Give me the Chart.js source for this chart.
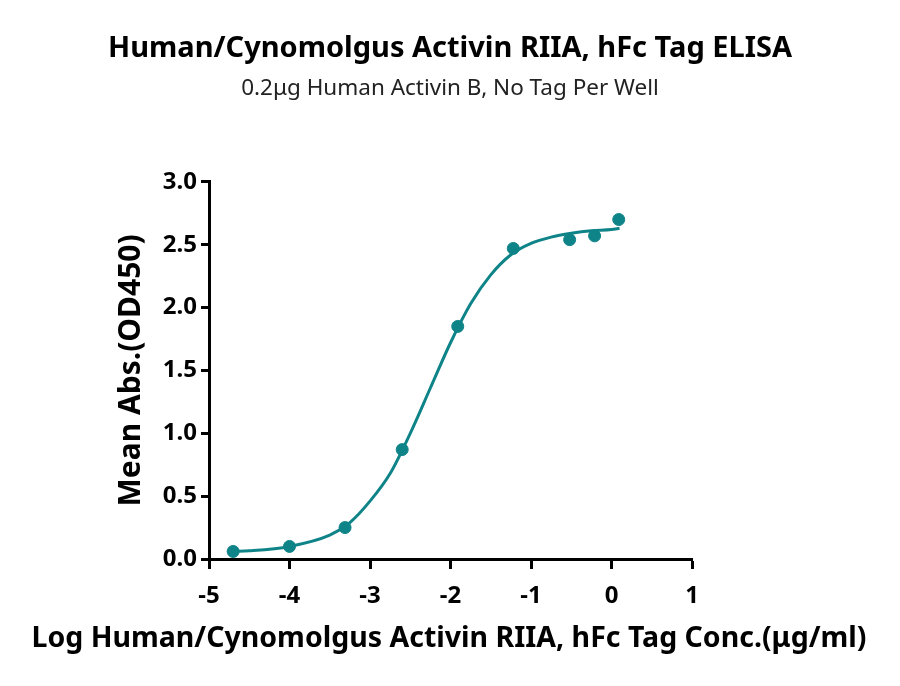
<!DOCTYPE html>
<html>
<head>
<meta charset="utf-8">
<script src="https://cdn.jsdelivr.net/npm/chart.js@4/dist/chart.umd.min.js"></script>
<style>
  body { margin: 0; background: #fff; }
  #wrap { width: 900px; height: 686px; }
</style>
</head>
<body>
<div id="wrap"><canvas id="elisaChart" width="900" height="686"></canvas></div>
<script>
// measured points (log conc, OD450)
const logConc = [-4.70, -4.00, -3.31, -2.60, -1.91, -1.22, -0.52, -0.21, 0.09];
const meanAbs = [0.06, 0.10, 0.25, 0.87, 1.85, 2.47, 2.54, 2.57, 2.70];

// fitted curve
const curveX = [-4.70, -4.50, -4.00, -3.50, -3.25, -3.00, -2.75, -2.50, -2.25, -2.00, -1.75, -1.50, -1.25, -1.00, -0.75, -0.50, -0.25, 0.00, 0.10];
const curveY = [0.06, 0.065, 0.10, 0.19, 0.29, 0.46, 0.68, 1.00, 1.36, 1.72, 2.03, 2.26, 2.42, 2.51, 2.56, 2.59, 2.61, 2.62, 2.63];

const xTicks = [-5, -4, -3, -2, -1, 0, 1];
const yTicks = [0, 0.5, 1, 1.5, 2, 2.5, 3];

const xTitle = 'Log Human/Cynomolgus Activin RIIA, hFc Tag Conc.(μg/ml)';

const teal = '#0f8488';
const font = 'Noto Sans';

function toPoints(xs, ys) {
    return xs.map((x, i) => ({ x: x, y: ys[i] }));
}

// x axis title drawn by hand so it is not squeezed to the axis width
const xTitlePlugin = {
    id: 'xTitle',
    afterDraw(chart) {
        const ctx = chart.ctx;
        ctx.save();
        ctx.font = 'bold 28.5px "' + font + '"';
        ctx.fillStyle = '#000';
        ctx.textAlign = 'center';
        ctx.textBaseline = 'middle';
        ctx.fillText(xTitle, 449, 639);
        ctx.restore();
    }
};

new Chart(document.getElementById('elisaChart'), {
    type: 'scatter',
    data: {
        datasets: [
            {
                label: 'fit',
                data: toPoints(curveX, curveY),
                showLine: true,
                cubicInterpolationMode: 'monotone',
                borderColor: teal,
                borderWidth: 3,
                pointRadius: 0
            },
            {
                label: 'mean',
                data: toPoints(logConc, meanAbs),
                backgroundColor: teal,
                borderColor: teal,
                pointRadius: 6,
                pointHoverRadius: 6
            }
        ]
    },
    options: {
        responsive: false,
        animation: false,
        devicePixelRatio: 1,
        layout: { padding: 0 },
        plugins: {
            legend: { display: false },
            tooltip: { enabled: false },
            title: {
                display: true,
                text: 'Human/Cynomolgus Activin RIIA, hFc Tag ELISA',
                color: '#000',
                font: { family: font, size: 29, weight: 'bold', lineHeight: 1.2 },
                padding: { top: 31, bottom: 8 }
            },
            subtitle: {
                display: true,
                text: '0.2μg Human Activin B, No Tag Per Well',
                color: '#222',
                font: { family: font, size: 22.5, weight: 'normal', lineHeight: 1.2 },
                padding: { top: 1, bottom: 80 }
            }
        },
        scales: {
            x: {
                type: 'linear',
                min: xTicks[0],
                max: xTicks[xTicks.length - 1],
                afterBuildTicks: (scale) => { scale.ticks = xTicks.map(v => ({ value: v })); },
                afterFit: (scale) => { scale.height = 127; },
                border: { display: true, color: '#000', width: 3 },
                grid: { drawOnChartArea: false, drawTicks: true, tickLength: 10, tickColor: '#000', tickWidth: 3 },
                ticks: {
                    color: '#000',
                    padding: 13,
                    font: { family: font, size: 24, weight: 'bold' }
                }
            },
            y: {
                type: 'linear',
                min: yTicks[0],
                max: yTicks[yTicks.length - 1],
                afterBuildTicks: (scale) => { scale.ticks = yTicks.map(v => ({ value: v })); },
                afterFit: (scale) => { scale.width = 209; },
                border: { display: true, color: '#000', width: 3 },
                grid: { drawOnChartArea: false, drawTicks: true, tickLength: 8, tickColor: '#000', tickWidth: 3 },
                ticks: {
                    color: '#000',
                    padding: 4,
                    font: { family: font, size: 24, weight: 'bold' },
                    callback: (v) => v.toFixed(1)
                },
                title: {
                    display: true,
                    text: 'Mean Abs.(OD450)',
                    color: '#000',
                    font: { family: font, size: 30, weight: 'bold', lineHeight: 1.2 },
                    padding: { top: 113 }
                }
            },
            // empty right axis, only keeps room on the right side
            yRight: {
                type: 'linear',
                position: 'right',
                display: true,
                afterFit: (scale) => { scale.width = 208; },
                border: { display: false },
                grid: { display: false },
                ticks: { display: false }
            }
        }
    },
    plugins: [xTitlePlugin]
});
</script>
</body>
</html>
